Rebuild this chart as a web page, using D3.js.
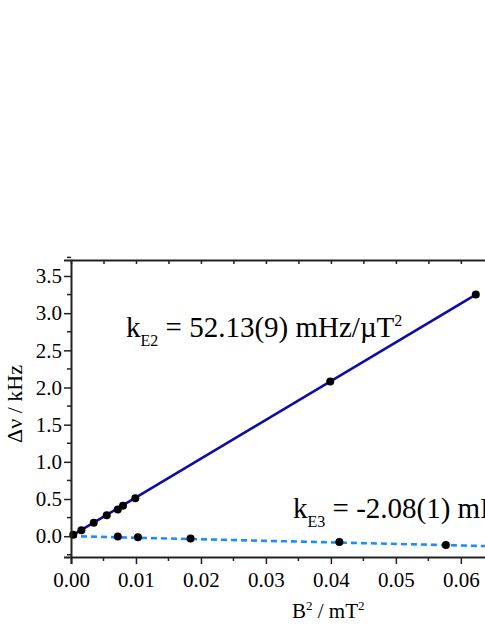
<!DOCTYPE html>
<html>
<head>
<meta charset="utf-8">
<script src="https://cdn.jsdelivr.net/npm/d3@7"></script>
<style>
  body { margin: 0; background: #fff; }
  svg { display: block; }
</style>
</head>
<body>
<div id="chart"></div>
<script>
// data (B^2 in mT^2, shift in kHz)
const e2X = [0.00035, 0.0016, 0.0035, 0.0055, 0.0072, 0.0080, 0.0099, 0.0399, 0.0623]
const e2Y = [0.02, 0.08, 0.18, 0.28, 0.36, 0.41, 0.51, 2.08, 3.25]
const e3X = [0.0072, 0.0103, 0.0184, 0.0413, 0.0577]
const e3Y = [-0.005, -0.013, -0.03, -0.077, -0.117]
// linear fits: slope kHz/mT^2, intercept kHz
const fitSlopes = [52.13, -2.08]
const fitIntercepts = [0.0, 0.0]
const xTicks = [0.00, 0.01, 0.02, 0.03, 0.04, 0.05, 0.06, 0.07]
const yTicks = [0.0, 0.5, 1.0, 1.5, 2.0, 2.5, 3.0, 3.5]

const FONT = "'Liberation Serif'"
const width = 485
const height = 627
const margin = {top: 260, left: 71, bottom: 70}
const plotW = 512   // frame runs past the right edge of the picture
const plotH = height - margin.top - margin.bottom

const svg = d3.select("#chart").append("svg")
  .attr("width", width)
  .attr("height", height)

const x = d3.scaleLinear().domain([0, 0.0788]).range([margin.left, margin.left + plotW])
const y = d3.scaleLinear().domain([-0.28, 3.715]).range([margin.top + plotH, margin.top])

// minor ticks
const xMinor = d3.range(0.005, 0.08, 0.01)
const yMinor = d3.range(-0.25, 3.8, 0.5)

const g = svg.append("g")

// fit lines
const x0 = 0, x1 = 0.0788
g.append("line")
  .attr("x1", x(x0)).attr("y1", y(fitIntercepts[0] + fitSlopes[0] * x0))
  .attr("x2", x(0.0623)).attr("y2", y(fitIntercepts[0] + fitSlopes[0] * 0.0623))
  .attr("stroke", "#0c0ca6").attr("stroke-width", 2.6)
g.append("line")
  .attr("x1", x(x0)).attr("y1", y(fitIntercepts[1] + fitSlopes[1] * x0))
  .attr("x2", x(x1)).attr("y2", y(fitIntercepts[1] + fitSlopes[1] * x1))
  .attr("stroke", "#1e8cff").attr("stroke-width", 2.6)
  .attr("stroke-dasharray", "6,4")

// points
g.selectAll(".e2").data(e2X).enter().append("circle")
  .attr("cx", d => x(d)).attr("cy", (d, i) => y(e2Y[i])).attr("r", 4)
  .attr("fill", "#000")
g.selectAll(".e3").data(e3X).enter().append("circle")
  .attr("cx", d => x(d)).attr("cy", (d, i) => y(e3Y[i])).attr("r", 4)
  .attr("fill", "#000")

// axes
const axisColor = "#222"
const bottomAxis = svg.append("g").attr("transform", `translate(0,${margin.top + plotH})`)
  .call(d3.axisBottom(x).tickValues(xTicks).tickFormat(d3.format(".2f")).tickSize(7).tickPadding(8))
bottomAxis.selectAll(".tick").filter(d => d > 0.065).remove()
bottomAxis.append("g").selectAll("line").data(xMinor).enter().append("line")
  .attr("x1", d => x(d)).attr("x2", d => x(d)).attr("y1", 0).attr("y2", 4)

const leftAxis = svg.append("g").attr("transform", `translate(${margin.left},0)`)
  .call(d3.axisLeft(y).tickValues(yTicks).tickFormat(d3.format(".1f")).tickSize(7).tickPadding(2))
leftAxis.append("g").selectAll("line").data(yMinor).enter().append("line")
  .attr("y1", d => y(d)).attr("y2", d => y(d)).attr("x1", 0).attr("x2", -4)

const topAxis = svg.append("g").attr("transform", `translate(0,${margin.top})`)
  .call(d3.axisTop(x).tickValues(xTicks.concat(xMinor)).tickFormat("").tickSize(-4).tickSizeOuter(0))

;[bottomAxis, leftAxis, topAxis].forEach(a => {
  a.select(".domain").attr("stroke", axisColor).attr("stroke-width", 2)
  a.selectAll("line").attr("stroke", axisColor).attr("stroke-width", 1.5)
  a.selectAll("text").attr("fill", "#000").style("font-size", "21px")
})

// axis titles
svg.append("text")
  .attr("transform", `translate(22,404) rotate(-90)`)
  .attr("text-anchor", "middle")
  .style("font-size", "22px")
  .text("Δν / kHz")

const xt = svg.append("text")
  .attr("x", 292).attr("y", 618)
  .style("font-size", "21px")
xt.append("tspan").text("B")
xt.append("tspan").attr("dy", -8).style("font-size", "13px").text("2")
xt.append("tspan").attr("dy", 8).text(" / mT")
xt.append("tspan").attr("dy", -8).style("font-size", "13px").text("2")

// annotations
function label(px, py, sub, rest) {
  const t = svg.append("text").attr("x", px).attr("y", py).style("font-size", "29px")
  t.append("tspan").text("k")
  t.append("tspan").attr("dy", 9).style("font-size", "16px").text(sub)
  t.append("tspan").attr("dy", -9).text(rest)
  return t
}
const a1 = label(126, 337, "E2", " = 52.13(9) mHz/\u00b5T")
a1.append("tspan").attr("dy", -11).style("font-size", "16px").text("2")
label(293, 518, "E3", " = -2.08(1) mHz/\u00b5T")

// serif everywhere, set on each text the same way
svg.selectAll("text").style("font-family", FONT)
</script>
</body>
</html>
